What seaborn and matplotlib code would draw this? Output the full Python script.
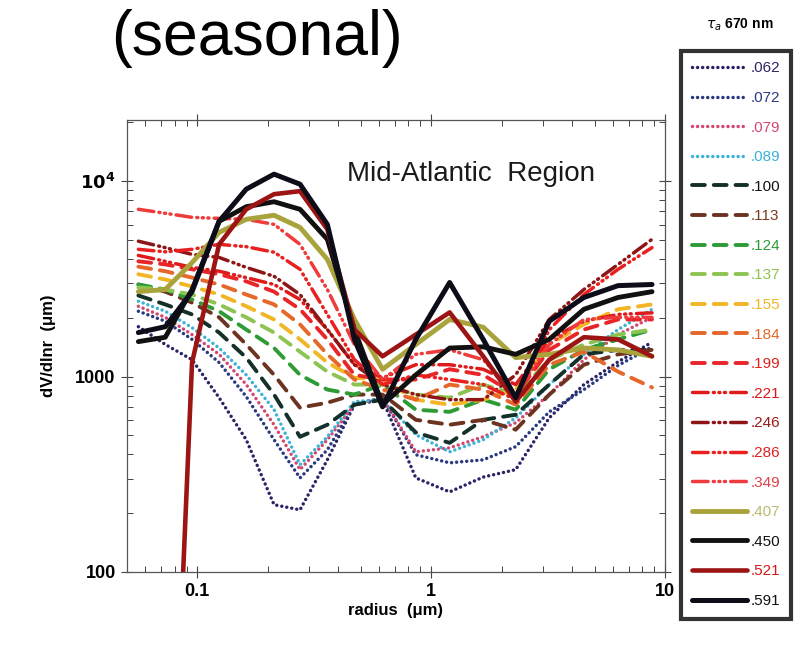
import numpy as np
import pandas as pd
import seaborn as sns
import matplotlib.pyplot as plt
from matplotlib.ticker import FixedLocator, FixedFormatter, LogLocator, NullFormatter

# radius nodes (um), shared by all curves
radius = [0.056, 0.073, 0.095, 0.124, 0.162, 0.213, 0.275, 0.36, 0.47,
          0.62, 0.86, 1.2, 1.67, 2.3, 3.2, 4.5, 6.3, 8.8]

# dV/dlnr for each aerosol optical depth at 670 nm
v062 = [1800, 1460, 1220, 780, 475, 221, 208, 375, 718, 762, 303, 257, 306, 334, 615, 910, 1190, 1500]
v072 = [2160, 1920, 1550, 1180, 790, 475, 303, 422, 718, 780, 398, 362, 375, 438, 660, 858, 1140, 1420]
v079 = [2290, 2010, 1640, 1300, 910, 567, 334, 475, 718, 780, 412, 432, 492, 581, 809, 1220, 1640, 2010]
v089 = [2430, 2160, 1780, 1400, 1020, 677, 354, 492, 745, 762, 504, 412, 475, 615, 910, 1300, 1740, 2210]
v100 = [2600, 2340, 2080, 1680, 1250, 809, 492, 567, 718, 762, 518, 458, 601, 638, 910, 1300, 1370, 1370]
v113 = [2960, 2720, 2390, 2010, 1460, 1020, 693, 735, 809, 809, 601, 567, 601, 535, 809, 1150, 1300, 1370]
v124 = [2960, 2790, 2480, 2160, 1740, 1400, 1020, 858, 809, 910, 677, 660, 762, 677, 1090, 1370, 1550, 1740]
v137 = [2860, 2790, 2630, 2340, 2010, 1680, 1340, 1060, 910, 910, 809, 780, 910, 809, 1220, 1460, 1640, 1740]
v155 = [3340, 3140, 2890, 2630, 2290, 1960, 1550, 1180, 985, 966, 762, 718, 762, 858, 1460, 1850, 2210, 2340]
v184 = [3650, 3460, 3210, 2960, 2630, 2340, 1850, 1300, 966, 858, 762, 910, 858, 718, 1150, 1340, 1060, 880]
v199 = [3890, 3750, 3540, 3340, 3070, 2720, 2210, 1550, 1020, 966, 966, 1090, 1020, 809, 1370, 1740, 1960, 1960]
v221 = [4170, 3890, 3620, 3460, 3210, 2960, 2480, 1740, 1150, 985, 1150, 1150, 1090, 910, 1550, 1920, 2080, 2120]
v246 = [4930, 4570, 4220, 4070, 3620, 3260, 2630, 1740, 1150, 910, 809, 762, 762, 1020, 1960, 2790, 3750, 5040]
v286 = [4480, 4350, 4480, 4750, 4620, 4330, 3540, 2080, 1220, 910, 1020, 966, 910, 762, 1740, 2630, 3540, 4570]
v349 = [7180, 6850, 6530, 6450, 6380, 6010, 4750, 2790, 1460, 966, 1300, 1370, 1220, 809, 1460, 1960, 2010, 2010]
v407 = [2720, 2790, 3830, 5470, 6380, 6690, 5800, 3980, 1960, 1090, 1460, 1960, 1790, 1250, 1300, 1400, 1370, 1270]
v450 = [1510, 1590, 2790, 6230, 7400, 7850, 7180, 5040, 1740, 718, 1020, 1400, 1420, 1300, 1550, 2210, 2540, 2720]
v521 = [0.5, 0.7, 1180, 4750, 7180, 8580, 8890, 5670, 1740, 1270, 1640, 2130, 1270, 745, 1220, 1590, 1550, 1270]
v591 = [1680, 1800, 2720, 6230, 9100, 10860, 9650, 6010, 1550, 700, 1550, 3030, 1550, 780, 1920, 2540, 2920, 2960]

tau_labels = ['.062', '.072', '.079', '.089', '.100', '.113', '.124', '.137', '.155',
              '.184', '.199', '.221', '.246', '.286', '.349', '.407', '.450', '.521', '.591']
series = [v062, v072, v079, v089, v100, v113, v124, v137, v155,
          v184, v199, v221, v246, v286, v349, v407, v450, v521, v591]

line_colors = ['#2a2366', '#28397f', '#d2476f', '#3bb2d6', '#14302a', '#6b3320', '#2e9b35',
               '#8dc451', '#f2b526', '#e5672a', '#e8262a', '#e01b1b', '#8e1515', '#ea2020',
               '#ef3b3b', '#a9a33b', '#111111', '#9c1414', '#0d0d1a']
text_colors = ['#2a2366', '#28397f', '#d2476f', '#3bb2d6', '#111111', '#7a3a20', '#2e9b35',
               '#8dc451', '#f2b526', '#e5672a', '#e02020', '#d81818', '#9a1a1a', '#e02020',
               '#e0404a', '#bdb870', '#111111', '#d01818', '#111111']

dotted = (0, (0.01, 1.45))
dashed = (0, (3.3, 2.3))
dashdot = (0, (4.5, 1.5, 0.3, 1.3, 0.3, 1.3, 0.3, 1.5))
styles = [dotted] * 4 + [dashed] * 7 + [dashdot] * 4 + ['-'] * 4
widths = [2.5] * 4 + [2.8] * 7 + [2.5] * 4 + [3.5, 3.5, 3.3, 3.6]

sns.set_theme(style='ticks')
plt.rcParams['font.family'] = ['Liberation Sans', 'DejaVu Sans']

fig = plt.figure(figsize=(8.08, 6.5), dpi=100)
ax = fig.add_axes([0.157, 0.12, 0.666, 0.695])

handles = []
for vals, lab, col, ls, lw in zip(series, tau_labels, line_colors, styles, widths):
    df = pd.DataFrame({'radius': radius, 'dv': vals})
    sns.lineplot(data=df, x='radius', y='dv', ax=ax, color=col, lw=lw,
                 linestyle=ls, dash_capstyle='round', solid_capstyle='round',
                 solid_joinstyle='round', label=lab, legend=False)
    handles.append(ax.lines[-1])

ax.set_xscale('log')
ax.set_yscale('log')
ax.set_xlim(0.05, 10)
ax.set_ylim(100, 20500)

ax.xaxis.set_major_locator(FixedLocator([0.1, 1, 10]))
ax.xaxis.set_major_formatter(FixedFormatter(['0.1', '1', '10']))
ax.xaxis.set_minor_locator(LogLocator(base=10, subs=np.arange(2, 10)))
ax.xaxis.set_minor_formatter(NullFormatter())
ax.yaxis.set_major_locator(FixedLocator([100, 1000, 10000]))
ax.yaxis.set_major_formatter(FixedFormatter(['100', '1000', r'$\mathbf{10^4}$']))
ax.yaxis.set_minor_locator(LogLocator(base=10, subs=np.arange(2, 10)))
ax.yaxis.set_minor_formatter(NullFormatter())

ax.tick_params(which='major', direction='inout', length=9, width=0.8, top=True, right=True,
               labelsize=13, colors='#444444', labelcolor='black')
ax.tick_params(which='minor', direction='in', length=4, width=0.7, top=True, right=True,
               colors='#444444')
for lab in ax.get_xticklabels() + ax.get_yticklabels():
    lab.set_fontweight('bold')
for sp in ax.spines.values():
    sp.set_color('#555555')
    sp.set_linewidth(0.9)

ax.set_xlabel('radius  (μm)', fontsize=12, fontweight='bold', labelpad=2, color='black')
ax.set_ylabel('dV/dlnr  (μm)', fontsize=12, fontweight='bold', labelpad=14, color='black')

ax.text(0.41, 0.865, 'Mid-Atlantic  Region', transform=ax.transAxes, fontsize=20,
        color='#1a1a1a')
fig.text(0.318, 0.915, '(seasonal)', fontsize=45, ha='center', va='baseline', color='black')

leg = ax.legend(handles, tau_labels, loc='upper left', bbox_to_anchor=(0.843, 0.922),
                bbox_transform=fig.transFigure, frameon=True, fancybox=False,
                edgecolor='black', handlelength=3.6, handletextpad=0.25,
                labelspacing=1.02, fontsize=11, borderpad=0.7, borderaxespad=0)
leg.get_frame().set_linewidth(3)
for t, c in zip(leg.get_texts(), text_colors):
    t.set_color(c)
fig.text(0.915, 0.962, r'$\tau_a$ 670 nm', ha='center', va='center', fontsize=10,
         fontweight='bold', color='black')

fig.savefig('out.png', dpi=100, facecolor='white')
